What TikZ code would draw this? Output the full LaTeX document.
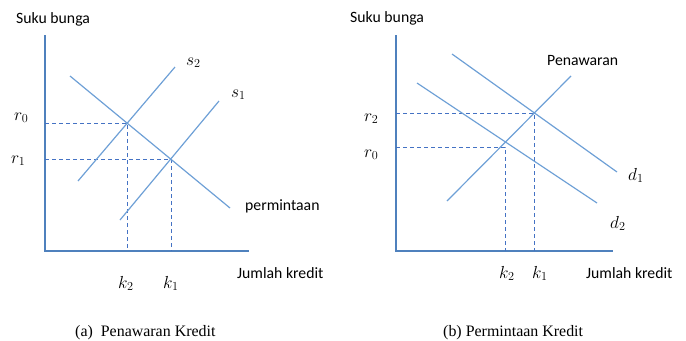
\RequirePackage{fix-cm}
\documentclass[tikz,border=0pt]{standalone}
\usepackage{fontspec}
\setmainfont{Liberation Serif}
\newfontfamily\calfont{Carlito}
\definecolor{axisblue}{RGB}{79,129,189}
\definecolor{lineblue}{RGB}{110,160,214}
\definecolor{dashblue}{RGB}{68,114,196}
\begin{document}
\begin{tikzpicture}[x=1bp,y=-1bp,
  axisline/.style={draw=axisblue,line width=1.3bp},
  curve/.style={draw=lineblue,line width=1.2bp},
  guide/.style={draw=dashblue,line width=0.9bp,dash pattern=on 4bp off 3bp},
  lbl/.style={inner sep=0pt,anchor=base west,font=\calfont\fontsize{15.8}{18}\selectfont},
  mlbl/.style={inner sep=0pt,anchor=base west,font=\fontsize{17.5}{20}\selectfont},
  captext/.style={inner sep=0pt,anchor=base west,font=\fontsize{16}{19}\selectfont}]
\useasboundingbox (0,0) rectangle (686,340);
% ---------- left panel ----------
\coordinate (aTop) at (45,35);
\coordinate (aO) at (45,251);
\coordinate (aRight) at (249,251);
\draw[axisline] (aTop) -- (aO) -- (aRight);
\coordinate (aD1) at (70,76);   \coordinate (aD2) at (230,208);
\coordinate (aS2a) at (78,181); \coordinate (aS2b) at (175,67);
\coordinate (aS1a) at (120,220);\coordinate (aS1b) at (219,101);
\coordinate (aE0) at (127,123); \coordinate (aE1) at (171,159);
\draw[guide] (45,123) -- (aE0) -- (127,251);
\draw[guide] (45,159) -- (aE1) -- (171,251);
\draw[curve] (aD1) -- (aD2);
\draw[curve] (aS2a) -- (aS2b);
\draw[curve] (aS1a) -- (aS1b);
\node[lbl] (aY) at (16,23.5) {Suku bunga};
\node[mlbl] (as2) at (186,65) {$s_2$};
\node[mlbl] (as1) at (231,97) {$s_1$};
\node[mlbl] (ar0) at (14,120) {$r_0$};
\node[mlbl] (ar1) at (11,163) {$r_1$};
\node[lbl] (aperm) at (245,210) {permintaan};
\node[lbl] (aX) at (237,278) {Jumlah kredit};
\node[mlbl] (ak2) at (118,288) {$k_2$};
\node[mlbl] (ak1) at (163,288) {$k_1$};
\node[captext] (acap) at (75,336) {(a)\ \ Penawaran Kredit};
% ---------- right panel ----------
\coordinate (bTop) at (396,35);
\coordinate (bO) at (396,251);
\coordinate (bRight) at (613,251);
\draw[axisline] (bTop) -- (bO) -- (bRight);
\coordinate (bD1a) at (452,54);  \coordinate (bD1b) at (617,172);
\coordinate (bD2a) at (417,83);  \coordinate (bD2b) at (597,203);
\coordinate (bSa) at (447,201);  \coordinate (bSb) at (571,76);
\coordinate (bE2) at (534,113);  \coordinate (bE0) at (505,147);
\draw[guide] (396,113) -- (bE2) -- (534,251);
\draw[guide] (396,147) -- (bE0) -- (505,251);
\draw[curve] (bD1a) -- (bD1b);
\draw[curve] (bD2a) -- (bD2b);
\draw[curve] (bSa) -- (bSb);
\node[lbl] (bY) at (350,22) {Suku bunga};
\node[lbl] (bpen) at (547,65) {Penawaran};
\node[mlbl] (br2) at (364,121) {$r_2$};
\node[mlbl] (br0) at (364,157) {$r_0$};
\node[mlbl] (bd1) at (628,180) {$d_1$};
\node[mlbl] (bd2) at (610,228) {$d_2$};
\node[mlbl] (bk2) at (499,278) {$k_2$};
\node[mlbl] (bk1) at (532,278) {$k_1$};
\node[lbl] (bX) at (586,278) {Jumlah kredit};
\node[captext] (bcap) at (443,336) {(b) Permintaan Kredit};
\end{tikzpicture}
\end{document}
